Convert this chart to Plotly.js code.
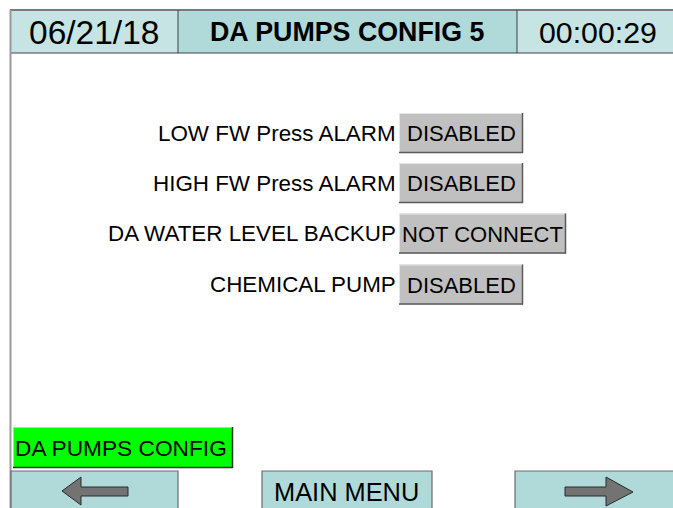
<!DOCTYPE html>
<html>
<head>
<meta charset="utf-8">
<script src="https://cdn.plot.ly/plotly-3.0.1.min.js"></script>
<style>html,body{margin:0;padding:0;background:#fff;}#chart{width:673px;height:508px;}</style>
</head>
<body>
<div id="chart"></div>
<script>
// ---- screen content ----
const headerDate = "06/21/18";
const headerTitle = "DA PUMPS CONFIG 5";
const headerTime = "00:00:29";
const rowLabels = ["LOW FW Press ALARM", "HIGH FW Press ALARM", "DA WATER LEVEL BACKUP", "CHEMICAL PUMP"];
const rowValues = ["DISABLED", "DISABLED", "NOT CONNECT", "DISABLED"];
const screenTag = "DA PUMPS CONFIG";
const navLabels = ["", "MAIN MENU", ""];

// ---- layout constants ----
const W = 673, H = 508;
const FONT = "Liberation Sans, Arial, sans-serif";
const rowCenters = [133, 183, 233.5, 284.5];
const labelRight = 398;
const btnLeft = 399;
const btnWidths = {"DISABLED": 124, "NOT CONNECT": 167};

const shapes = [];
const ann = [];

function rect(x0, y0, x1, y1, fill, lineColor, lw) {
  shapes.push({type: "rect", xref: "x", yref: "y", x0, y0, x1, y1,
    fillcolor: fill, line: {color: lineColor || fill, width: lw === undefined ? 0 : lw}, layer: "above"});
}
function line(x0, y0, x1, y1, color, w) {
  shapes.push({type: "line", xref: "x", yref: "y", x0, y0, x1, y1, line: {color, width: w}, layer: "above"});
}
function bevel(x0, y0, x1, y1, fill, light, dark) {
  rect(x0, y0, x1, y1, fill);
  line(x0, y0 + 0.5, x1, y0 + 0.5, light, 1);
  line(x0 + 0.5, y0, x0 + 0.5, y1, light, 1);
  line(x1 - 0.5, y0, x1 - 0.5, y1, dark, 1.5);
  line(x0, y1 - 0.5, x1, y1 - 0.5, dark, 1.5);
}
function text(x, y, t, size, opts) {
  ann.push(Object.assign({xref: "x", yref: "y", x, y, text: t, showarrow: false,
    xanchor: "center", yanchor: "middle", font: {family: FONT, size, color: "#000"}}, opts || {}));
}

// header
rect(10, 10, 178, 53, "#c6e4e4");
rect(178, 10, 517, 53, "#b0dada");
rect(517, 10, 673, 53, "#c6e4e4");
line(10, 10, 673, 10, "#7a7a7a", 2);
line(10, 53, 673, 53, "#404040", 1);
line(178, 10, 178, 53, "#404040", 1);
line(517, 10, 517, 53, "#404040", 1);
line(10.5, 10, 10.5, 508, "#9a9a9a", 2);
text(93.5, 32, headerDate, 33.5);
text(347, 32, "<b>" + headerTitle + "</b>", 26.8);
text(598, 32, headerTime, 30.3);

// rows
rowLabels.forEach((lab, i) => {
  const cy = rowCenters[i];
  text(labelRight, cy, lab, 22.4, {xanchor: "right"});
  const w = btnWidths[rowValues[i]];
  bevel(btnLeft, cy - 20, btnLeft + w, cy + 20, "#c0c0c0", "#e6e6e6", "#5a5a5a");
  text(btnLeft + w / 2, cy + 0.5, rowValues[i], 22);
});

// green tag button
bevel(13, 427, 233, 468, "#00ff00", "#7dff7d", "#303030");
text(121, 447.5, screenTag, 22.7);

// navigation buttons
const navBoxes = [[11, 178], [262, 432], [515, 674]];
navBoxes.forEach((b, i) => {
  rect(b[0], 471, b[1], 510, "#b0dada", "#6a6a6a", 1.2);
  if (navLabels[i]) text((b[0] + b[1]) / 2 - 1, 492, navLabels[i], 25.4);
});
// arrows
shapes.push({type: "path", xref: "x", yref: "y", layer: "above",
  path: "M 62 491 L 81 477 L 81 487 L 128 487 L 128 496 L 81 496 L 81 505 Z",
  fillcolor: "#737373", line: {color: "#2a2a2a", width: 1}});
shapes.push({type: "path", xref: "x", yref: "y", layer: "above",
  path: "M 633 492 L 606 477 L 606 487 L 565 487 L 565 496 L 606 496 L 606 506 Z",
  fillcolor: "#737373", line: {color: "#2a2a2a", width: 1}});

const layout = {
  width: W, height: H,
  margin: {l: 0, r: 0, t: 0, b: 0, pad: 0},
  paper_bgcolor: "#ffffff", plot_bgcolor: "#ffffff",
  xaxis: {range: [0, W], visible: false, fixedrange: true},
  yaxis: {range: [H, 0], visible: false, fixedrange: true},
  showlegend: false,
  shapes, annotations: ann
};
Plotly.newPlot("chart", [{x: [], y: [], type: "scatter"}], layout, {displayModeBar: false, staticPlot: true});
</script>
</body>
</html>
